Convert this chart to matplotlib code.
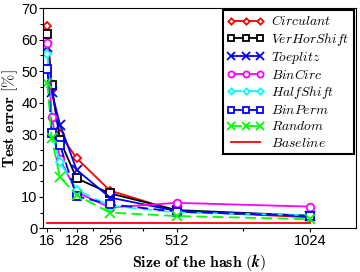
import matplotlib
matplotlib.use("Agg")
import matplotlib.pyplot as plt
from matplotlib.ticker import FixedLocator, MultipleLocator

plt.rcParams['font.family'] = ['Liberation Sans', 'DejaVu Sans']
plt.rcParams['mathtext.fontset'] = 'cm'

k = [16, 32, 64, 128, 256, 512, 1024]
circulant   = [64.3, 44.0, 30.0, 22.3, 12.0, 5.5, 3.5]
verhorshift = [61.7, 45.5, 28.0, 15.9, 11.1, 5.8, 4.0]
toeplitz    = [57.8, 43.5, 33.0, 18.6, 9.8, 5.5, 3.8]
bincirc     = [58.9, 35.5, 22.0, 11.5, 6.6, 8.1, 6.9]
halfshift   = [55.6, 30.0, 21.0, 12.2, 7.2, 5.0, 4.2]
binperm     = [50.8, 30.2, 26.5, 10.2, 7.6, 5.3, 3.9]
random_     = [46.2, 28.6, 16.3, 10.5, 5.0, 3.9, 2.9]
baseline_k  = [16, 1024]
baseline    = [1.7, 1.7]

series = [
    ("Circulant", circulant, 'red', 'D', '-'),
    ("VerHorShift", verhorshift, 'black', 's', '-'),
    ("Toeplitz", toeplitz, 'blue', 'x', '-'),
    ("BinCirc", bincirc, 'magenta', 'o', '-'),
    ("HalfShift", halfshift, 'cyan', 'D', '--'),
    ("BinPerm", binperm, 'blue', 's', '--'),
    ("Random", random_, 'lime', 'x', '--'),
]

fig = plt.figure(figsize=(3.6, 2.72), dpi=100)
ax = fig.add_axes([43.3/360, 1-228.3/272, (355.7-43.3)/360, 220/272])

for name, vals, c, m, ls in series:
    ms = 4 if m == 'D' else (6.5 if m == 'x' else 5.5)
    ax.plot(k, vals, color=c, marker=m, linestyle=ls, lw=1.3, ms=ms,
            mfc='white' if m != 'x' else c, mec=c, mew=1.3,
            label='$' + name + '$', dashes=(6, 3) if ls == '--' else (None, None))
ax.plot(baseline_k, baseline, color='red', lw=1.3, label='$Baseline$')

ax.set_xlim(0, 1200)
ax.set_ylim(0, 70)
ax.xaxis.set_major_locator(FixedLocator([16, 128, 256, 512, 1024]))
ax.xaxis.set_minor_locator(FixedLocator([64, 192, 384, 768]))
ax.yaxis.set_major_locator(MultipleLocator(10))
ax.yaxis.set_minor_locator(MultipleLocator(5))
ax.tick_params(which='both', direction='out', labelsize=10.5, width=0.8)
ax.tick_params(which='major', length=3)
ax.tick_params(which='minor', length=2)
ax.tick_params(axis='x', pad=1)
ax.tick_params(axis='y', pad=1)
for s in ax.spines.values():
    s.set_linewidth(0.8)

ax.set_xlabel(r'$\mathbf{Size\ of\ the\ hash\ (}\boldsymbol{k}\mathbf{)}$', fontsize=11.5, labelpad=3)
ax.set_ylabel(r'$\mathbf{Test\ error\ [\%]}$', fontsize=11.5, labelpad=1)

leg = ax.legend(loc='upper right', fontsize=9.8, frameon=True, fancybox=False,
                edgecolor='black', framealpha=1, handlelength=2.75, numpoints=3,
                borderaxespad=0.15, labelspacing=0.16, handletextpad=0.5,
                borderpad=0.3, markerscale=0.8)
leg.get_frame().set_linewidth(1.5)

fig.savefig('out.png', dpi=100)
